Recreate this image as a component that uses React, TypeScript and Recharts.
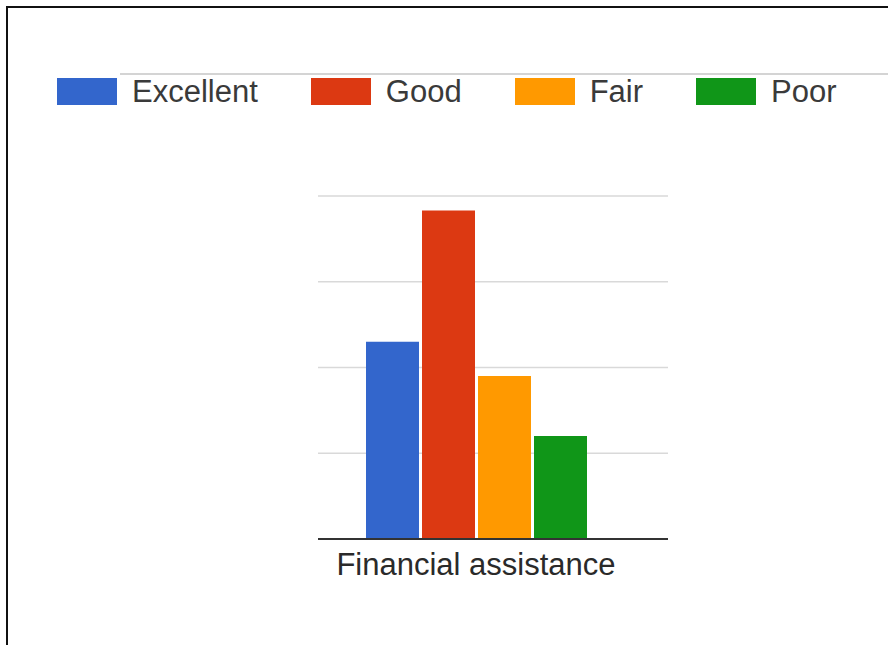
import { BarChart, Bar, XAxis, YAxis, CartesianGrid, Legend } from 'recharts';

const categories = ['Financial assistance'];
const excellent = [2.3];
const good = [3.83];
const fair = [1.9];
const poor = [1.2];
const yTicks = [0, 1, 2, 3, 4];

const seriesNames = ['Excellent', 'Good', 'Fair', 'Poor'];
const colors = ['#3366cc', '#dc3912', '#ff9900', '#109618'];

const data = categories.map((name, i) => ({
    name,
    Excellent: excellent[i],
    Good: good[i],
    Fair: fair[i],
    Poor: poor[i],
}));

const CustomLegend = () => (
    <div style={{ display: 'flex', alignItems: 'center', gap: '53px' }}>
        {seriesNames.map((name, index) => (
            <div key={name} style={{ display: 'flex', alignItems: 'center', gap: '15px' }}>
                <div style={{ width: '60px', height: '27px', backgroundColor: colors[index] }} />
                <span style={{ color: '#3a3a3a', fontSize: '31px', lineHeight: '31px' }}>{name}</span>
            </div>
        ))}
    </div>
);

const App = () => {
    return (
        <div style={{ position: 'absolute', left: 0, top: 0, width: 888, height: 645, background: '#fff', fontFamily: '"Liberation Sans", Arial, sans-serif' }}>
            {/* frame edges of the screenshot */}
            <div style={{ position: 'absolute', left: 6, top: 6, width: 882, height: 639, borderLeft: '2px solid #111', borderTop: '2px solid #111' }} />
            <div style={{ position: 'absolute', left: 120, top: 73, width: 768, height: 2, background: '#d4d4d4' }} />
            <BarChart
                width={888}
                height={645}
                data={data}
                margin={{ top: 165, right: 220, bottom: 56, left: 318 }}
                barGap={3}
                barSize={53}
                style={{ position: 'absolute', left: 0, top: 0 }}
            >
                <CartesianGrid vertical={false} stroke="#d9d9d9" strokeWidth={1.5} />
                <YAxis hide domain={[0, 4]} ticks={yTicks} />
                <XAxis
                    dataKey="name"
                    height={50}
                    padding={{ left: 0, right: 34 }}
                    tickLine={false}
                    tickMargin={8}
                    axisLine={{ stroke: '#333', strokeWidth: 2 }}
                    tick={{ fill: '#2a2a2a', fontSize: 31 }}
                />
                <Legend
                    verticalAlign="top"
                    align="left"
                    content={<CustomLegend />}
                    wrapperStyle={{ top: 76, left: 57, width: 'auto' }}
                />
                {seriesNames.map((name, index) => (
                    <Bar key={name} dataKey={name} fill={colors[index]} isAnimationActive={false} />
                ))}
            </BarChart>
        </div>
    );
};

export default App;
